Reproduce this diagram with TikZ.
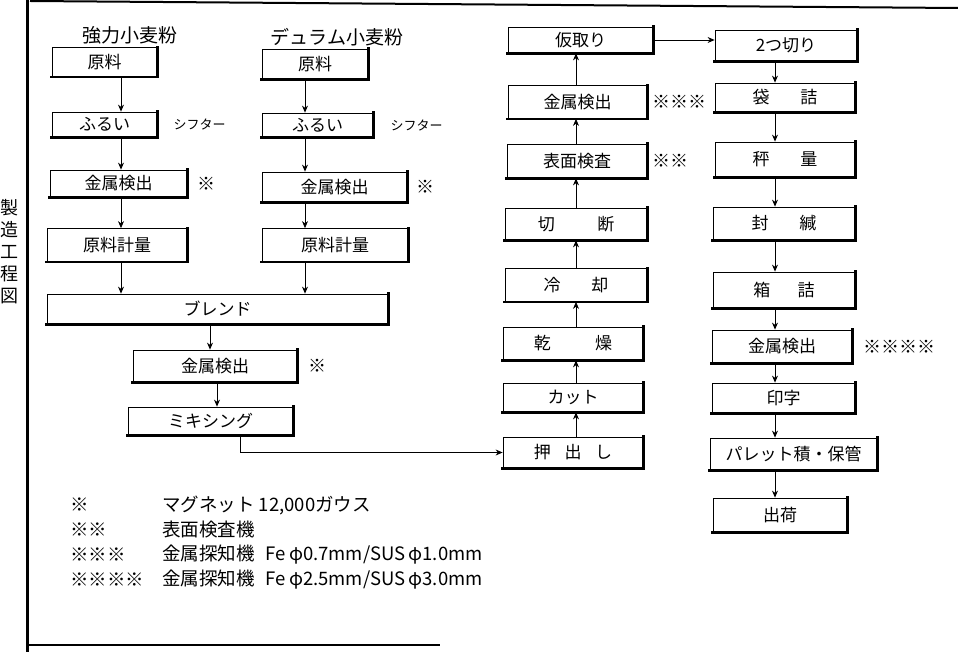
\documentclass[tikz,border=0pt]{standalone}
\usepackage{fontspec}
\setmainfont{Noto Sans CJK JP}
\usetikzlibrary{positioning,arrows.meta}

\begin{document}
\begin{tikzpicture}[x=1pt, y=-1pt,
    proc/.style={draw, thick, fill=white, inner sep=0pt,
      font=\fontsize{17}{17}\selectfont,
      append after command={
        (\tikzlastnode.north east) edge[-, line width=2.4pt, line cap=rect] (\tikzlastnode.south east)
        (\tikzlastnode.south east) edge[-, line width=2.4pt, line cap=rect] (\tikzlastnode.south west)}},
    arr/.style={thick, -{Stealth[length=7pt, width=6pt]}},
    heading/.style={inner sep=0pt, font=\fontsize{19}{19}\selectfont},
    note/.style={inner sep=0pt, font=\fontsize{18}{18}\selectfont},
    small/.style={inner sep=0pt, font=\fontsize{13}{13}\selectfont},
    legend/.style={inner sep=0pt, anchor=west, font=\fontsize{18.5}{18.5}\selectfont}]
    \useasboundingbox (0,0) rectangle (958,652);

    % frame
    \draw[line width=3pt] (27,0) -- (27,652);
    \draw[line width=2pt] (30,1) -- (958,8);
    \draw[line width=2pt] (27,645) -- (440,645);
    \node[inner sep=0pt, align=center, font=\fontsize{18}{22}\selectfont] (side) at (10,252) {製\\造\\工\\程\\図};

    % strong flour
    \node[heading] (wheat1) at (130,35) {強力小麦粉};
    \node[proc, minimum width=105pt, minimum height=29pt] (gen1) at (104.5,62) {原料};
    \node[proc, minimum width=105pt, minimum height=25pt] (furui1) at (104.5,124.5) {ふるい};
    \node[proc, minimum width=137pt, minimum height=27pt] (kin1) at (118.5,183.5) {金属検出};
    \node[proc, minimum width=140pt, minimum height=33pt] (kei1) at (117,245) {原料計量};
    \node[small, right=16pt of furui1] (sift1) {シフター};
    \node[note, right=10pt of kin1] (m1) {※};

    % durum flour
    \node[heading] (wheat2) at (337,37) {デュラム小麦粉};
    \node[proc, minimum width=106pt, minimum height=30pt] (gen2) at (315,64) {原料};
    \node[proc, minimum width=111pt, minimum height=24pt] (furui2) at (317.5,125) {ふるい};
    \node[proc, minimum width=145pt, minimum height=30pt] (kin2) at (334.5,187) {金属検出};
    \node[proc, minimum width=146pt, minimum height=33pt] (kei2) at (335,245) {原料計量};
    \node[small, right=17pt of furui2] (sift2) {シフター};
    \node[note, right=9pt of kin2] (m2) {※};

    % blend and mixing
    \node[proc, minimum width=341pt, minimum height=30pt] (blend) at (217.5,309) {ブレンド};
    \node[proc, minimum width=164pt, minimum height=32pt] (kin3) at (215,366) {金属検出};
    \node[proc, minimum width=165pt, minimum height=28pt] (mix) at (210.5,421) {ミキシング};
    \node[note, right=11pt of kin3] (m3) {※};

    % extrusion line
    \node[proc, minimum width=140pt, minimum height=31pt] (oshi) at (573,452.5) {押\hspace{0.8em}出\hspace{0.8em}し};
    \node[proc, minimum width=140pt, minimum height=29pt] (cut) at (573,397.5) {カット};
    \node[proc, minimum width=140pt, minimum height=33pt] (kan) at (573,343.5) {乾\hspace{2.6em}燥};
    \node[proc, minimum width=142pt, minimum height=33pt] (rei) at (576,285) {冷\hspace{1.8em}却};
    \node[proc, minimum width=142pt, minimum height=32pt] (setsu) at (576,224) {切\hspace{2.5em}断};
    \node[proc, minimum width=140pt, minimum height=34pt] (hyo) at (577,161) {表面検査};
    \node[proc, minimum width=139pt, minimum height=33pt] (kin4) at (577.5,102) {金属検出};
    \node[proc, minimum width=145pt, minimum height=26pt] (kari) at (580.5,40) {仮取り};
    \node[note, right=5pt of hyo] (m4) {※※};
    \node[note, right=5pt of kin4] (m5) {※※※};

    % packing line
    \node[proc, minimum width=142pt, minimum height=31pt] (futatsu) at (786,45.5) {2つ切り};
    \node[proc, minimum width=140pt, minimum height=29pt] (fukuro) at (785,97.5) {袋\hspace{1.8em}詰};
    \node[proc, minimum width=140pt, minimum height=35pt] (hakari) at (785,159.5) {秤\hspace{1.8em}量};
    \node[proc, minimum width=142pt, minimum height=33pt] (fuukan) at (784,223.5) {封\hspace{1.8em}緘};
    \node[proc, minimum width=142pt, minimum height=36pt] (hako) at (784,290) {箱\hspace{1.6em}詰};
    \node[proc, minimum width=140pt, minimum height=33pt] (kin5) at (782,346.5) {金属検出};
    \node[proc, minimum width=143pt, minimum height=30pt] (inji) at (783.5,398) {印字};
    \node[proc, minimum width=167pt, minimum height=32pt] (pallet) at (793.5,454) {パレット積・保管};
    \node[proc, minimum width=134pt, minimum height=34pt] (shukka) at (780,515) {出荷};
    \node[note, right=11pt of kin5] (m6) {※※※※};

    % arrow lanes
    \coordinate (a1) at (121,0);
    \coordinate (a2) at (305,0);
    \coordinate (a3) at (210,0);
    \coordinate (a4) at (217,0);
    \coordinate (a5) at (576,0);
    \coordinate (a6) at (775,0);
    \coordinate (a7) at (240,0);

    \draw[arr] (gen1.south -| a1) -- (furui1.north -| a1);
    \draw[arr] (furui1.south -| a1) -- (kin1.north -| a1);
    \draw[arr] (kin1.south -| a1) -- (kei1.north -| a1);
    \draw[arr] (kei1.south -| a1) -- (blend.north -| a1);
    \draw[arr] (gen2.south -| a2) -- (furui2.north -| a2);
    \draw[arr] (furui2.south -| a2) -- (kin2.north -| a2);
    \draw[arr] (kin2.south -| a2) -- (kei2.north -| a2);
    \draw[arr] (kei2.south -| a2) -- (blend.north -| a2);
    \draw[arr] (blend.south -| a3) -- (kin3.north -| a3);
    \draw[arr] (kin3.south -| a4) -- (mix.north -| a4);
    \draw[arr] (mix.south -| a7) |- (oshi.west);

    \draw[arr] (oshi.north -| a5) -- (cut.south -| a5);
    \draw[arr] (cut.north -| a5) -- (kan.south -| a5);
    \draw[arr] (kan.north -| a5) -- (rei.south -| a5);
    \draw[arr] (rei.north -| a5) -- (setsu.south -| a5);
    \draw[arr] (setsu.north -| a5) -- (hyo.south -| a5);
    \draw[arr] (hyo.north -| a5) -- (kin4.south -| a5);
    \draw[arr] (kin4.north -| a5) -- (kari.south -| a5);
    \draw[arr] (kari.east) -- (kari.east -| futatsu.west);

    \draw[arr] (futatsu.south -| a6) -- (fukuro.north -| a6);
    \draw[arr] (fukuro.south -| a6) -- (hakari.north -| a6);
    \draw[arr] (hakari.south -| a6) -- (fuukan.north -| a6);
    \draw[arr] (fuukan.south -| a6) -- (hako.north -| a6);
    \draw[arr] (hako.south -| a6) -- (kin5.north -| a6);
    \draw[arr] (kin5.south -| a6) -- (inji.north -| a6);
    \draw[arr] (inji.south -| a6) -- (pallet.north -| a6);
    \draw[arr] (pallet.south -| a6) -- (shukka.north -| a6);

    % legend
    \node[legend] (key1) at (70,505) {※};
    \node[legend] (key2) at (70,530) {※※};
    \node[legend] (key3) at (70,555) {※※※};
    \node[legend] (key4) at (70,580) {※※※※};
    \node[legend] (desc1) at (162,505) {マグネット 12,000ガウス};
    \node[legend] (desc2) at (162,530) {表面検査機};
    \node[legend] (desc3) at (162,555) {金属探知機\hspace{0.6em}Fe\,φ0.7mm/SUS\,φ1.0mm};
    \node[legend] (desc4) at (162,580) {金属探知機\hspace{0.6em}Fe\,φ2.5mm/SUS\,φ3.0mm};
\end{tikzpicture}
\end{document}
